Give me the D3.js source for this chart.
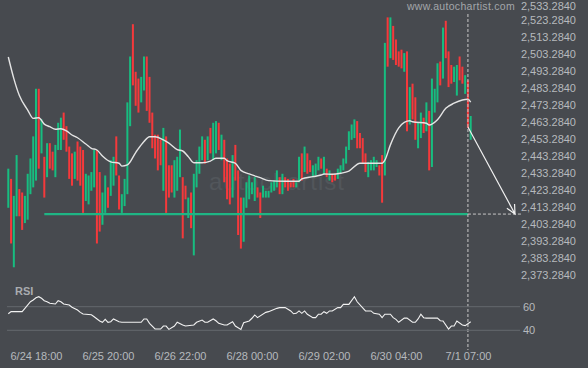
<!DOCTYPE html>
<html>
<head>
<meta charset="utf-8">
<script src="https://cdn.jsdelivr.net/npm/d3@7"></script>
<style>
  body { margin: 0; background: #474a4f; }
  svg { display: block; font-family: "Liberation Sans", Arial, sans-serif; }
</style>
</head>
<body>
<svg id="chart" width="588" height="368"></svg>
<script>
// hourly candles, u = up (green), d = down (red)
var dirs = "uduudduuuu" + "udududduuu" + "dddduddduu" + "uudduuduud" + "duuuuddduu" +
  "dddddduddd" + "uuudduduuu" + "ududuududd" + "duddduuuuu" + "dduuuuuudu" +
  "dddduududd" + "uuudududdu" + "uuuuuudddd" + "uuuuddudud" + "dddududduu" +
  "duduuududd" + "duuddudu";

var highs = [2436,2430,2420,2444,2424,2422,2420,2433,2442,2455,
  2483,2483,2465,2443,2451,2451,2446,2450,2463,2466,
  2469,2461,2449,2445,2446,2452,2449,2447,2433,2432,
  2434,2447,2447,2434,2422,2432,2425,2441,2443,2455,
  2432,2421,2430,2475,2502,2521,2493,2489,2490,2502,
  2502,2490,2469,2456,2456,2453,2460,2455,2438,2438,
  2441,2443,2459,2431,2426,2419,2422,2433,2441,2449,
  2455,2453,2455,2460,2463,2464,2463,2456,2453,2442,
  2439,2444,2450,2435,2419,2419,2428,2432,2428,2431,
  2425,2422,2426,2423,2423,2428,2429,2435,2431,2433,
  2431,2430,2428,2430,2428,2443,2445,2449,2445,2441,
  2438,2439,2443,2442,2443,2436,2435,2433,2433,2436,
  2438,2442,2449,2458,2462,2465,2464,2457,2454,2445,
  2440,2441,2443,2441,2438,2444,2510,2525,2525,2520,
  2512,2505,2506,2504,2505,2484,2486,2478,2463,2469,
  2466,2475,2470,2489,2483,2498,2499,2519,2523,2505,
  2497,2496,2497,2502,2496,2491,2488,2467];

var lows = [2413,2392,2378,2408,2408,2400,2404,2406,2421,2425,
  2429,2436,2445,2419,2431,2436,2435,2431,2447,2447,
  2453,2446,2430,2426,2430,2429,2426,2410,2417,2415,
  2423,2425,2392,2399,2403,2410,2413,2420,2426,2432,
  2412,2410,2414,2421,2461,2485,2473,2469,2475,2482,
  2470,2463,2448,2442,2435,2438,2423,2410,2419,2422,
  2419,2423,2431,2395,2418,2407,2401,2385,2425,2433,
  2441,2439,2441,2445,2441,2445,2447,2441,2428,2418,
  2415,2419,2429,2397,2389,2393,2413,2418,2421,2417,
  2419,2407,2419,2419,2419,2422,2423,2425,2421,2421,
  2425,2423,2425,2425,2425,2428,2429,2434,2433,2434,
  2431,2432,2435,2436,2433,2431,2429,2428,2429,2430,
  2433,2435,2439,2447,2453,2454,2448,2448,2439,2434,
  2431,2435,2435,2437,2432,2416,2432,2496,2501,2500,
  2497,2496,2495,2493,2458,2462,2465,2453,2448,2454,
  2457,2458,2435,2437,2469,2475,2485,2489,2501,2484,
  2486,2487,2479,2488,2486,2480,2460,2453];

// moving average, read at these candle indices
var maIdx = [0,2,4,7,9,11,13,15,17,19,21,23,25,28,30,32,34,37,40,41,43,46,49,51,53,
  56,58,61,63,65,67,70,73,75,78,79,82,84,87,91,94,100,105,106,110,113,114,117,120,123,
  127,135,136,138,141,143,145,146,151,152,155,158,161,164,166,167];
var maVal = [2501.7,2489,2479,2470.5,2465.6,2466,2462.2,2460.7,2459.2,2459.5,
  2458.2,2455.8,2454.2,2450.5,2448,2447,2443.5,2440,2439.2,2437.5,
  2438.2,2445.5,2452,2454.8,2454.8,2452.9,2451,2447.2,2446.4,2443.1,
  2439.5,2439.5,2440.5,2442.1,2442.1,2440.7,2439.2,2435,2432.9,2430.7,
  2429,2428.6,2428.6,2430,2431.3,2432.3,2432.9,2432.7,2433.3,2434.6,
  2439.2,2439.2,2441,2450,2460,2463.3,2464.2,2463.6,2462.7,2461.7,
  2464.8,2471.5,2474.5,2476.4,2476.8,2475.2];

var rsiIdx = [0,1,5,6,8,9,10,11,12,13,14,15,17,18,19,20,22,23,25,26,
  27,30,31,33,34,35,36,37,38,40,41,48,49,50,51,53,55,56,57,58,
  60,61,63,64,67,68,70,71,72,74,75,76,78,79,81,82,84,85,87,88,
  89,90,93,94,97,98,100,102,103,104,105,106,107,108,110,111,112,113,114,115,
  116,117,119,120,121,123,125,126,129,131,132,134,135,136,138,139,140,141,143,144,
  146,147,148,149,150,151,155,156,157,159,160,161,162,164,165,167];
var rsiVal = [54,55.8,55.8,58.6,64.2,65.7,67.6,68.5,67.1,65.1,64.2,62.9,62.3,65.1,64.2,62.3,61.4,59.5,57.2,55.2,
  53.8,53.2,51.5,47.9,46.8,49.3,46.8,47.3,49.6,47.3,46.8,46.8,49.6,49.6,45.9,41.1,41.1,43.6,43.6,40.8,
  43.6,46.8,44.5,43.6,44.5,46.8,48.7,46.8,46.8,49.6,48.1,45.9,44.5,44.5,47.3,43.6,40.8,46.4,47.9,50.2,
  53,50.7,55.2,55.8,58.6,59.2,59.2,56.4,54,54.4,56.4,54.4,56.4,53.6,50.7,50.7,53.6,53.6,55.8,54.4,
  56.4,56.4,59.2,59.2,62,62,68.5,64.2,56.4,56.4,54.4,53.6,50.7,53.6,53.6,50.7,49.3,46.8,50.3,50.3,
  46.8,46.8,49.6,53.6,50.7,50.3,50.3,48.1,47.9,41.1,43.6,43.6,47.9,44.5,44,47.3];

var priceTicks = [2533.284,2523.284,2513.284,2503.284,2493.284,2483.284,2473.284,2463.284,
  2453.284,2443.284,2433.284,2423.284,2413.284,2403.284,2393.284,2383.284,2373.284];
var rsiTicks = [60, 40];
var timeIdx = [10, 36, 62, 88, 114, 140, 166];
var timeLabels = ["6/24 18:00","6/25 20:00","6/26 22:00","6/28 00:00","6/29 02:00","6/30 04:00","7/1 07:00"];

var supportLevel = 2409.3, supportFrom = 13;
var signalIdx = 166, signalPrice = 2460.5;
var targetIdx = 183, targetPrice = 2409.3;

var svg = d3.select("#chart");
var green = "#17bd80", red = "#f5393b", txt = "#b6b9bd";

var x = d3.scaleLinear().domain([0, 167]).range([8.3, 470.7]);
var y = d3.scaleLinear().domain([2373.284, 2533.284]).range([275.3, 3.3]);
var yr = d3.scaleLinear().domain([40, 60]).range([330.3, 306.7]);

// faint watermark
svg.append("text").attr("x", 277).attr("y", 190).attr("text-anchor", "middle")
  .attr("font-size", 24).attr("fill", "#52565b").attr("letter-spacing", 1)
  .text("autochartist");

svg.append("text").attr("x", 461).attr("y", 10).attr("text-anchor", "middle")
  .attr("font-size", 10.5).attr("letter-spacing", 0.3).attr("fill", "#a3a6aa")
  .text("www.autochartist.com");

// candles
var candles = d3.range(highs.length);
svg.append("g").selectAll("rect").data(candles).enter().append("rect")
  .attr("x", function(i) { return x(i) - 1; })
  .attr("width", 2)
  .attr("y", function(i) { return y(highs[i]); })
  .attr("height", function(i) { return y(lows[i]) - y(highs[i]); })
  .attr("fill", function(i) { return dirs[i] == "u" ? green : red; });

// moving average
var maLine = d3.line().x(function(d, k) { return x(maIdx[k]); })
  .y(function(d) { return y(d); }).curve(d3.curveMonotoneX);
svg.append("path").attr("d", maLine(maVal)).attr("fill", "none")
  .attr("stroke", "#e4e4e4").attr("stroke-width", 1.4);

// support line
svg.append("line").attr("x1", x(supportFrom)).attr("x2", x(signalIdx))
  .attr("y1", y(supportLevel)).attr("y2", y(supportLevel))
  .attr("stroke", "#1fb584").attr("stroke-width", 2.2);
svg.append("line").attr("x1", x(signalIdx)).attr("x2", 522)
  .attr("y1", y(supportLevel)).attr("y2", y(supportLevel))
  .attr("stroke", "#c9c9c9").attr("stroke-width", 1).attr("stroke-dasharray", "3,2");

// vertical marker
svg.append("line").attr("x1", x(signalIdx)).attr("x2", x(signalIdx))
  .attr("y1", 14).attr("y2", 350)
  .attr("stroke", "#c9c9c9").attr("stroke-width", 1).attr("stroke-dasharray", "3,2");

// forecast arrow
var ax1 = x(signalIdx), ay1 = y(signalPrice), ax2 = x(targetIdx), ay2 = y(targetPrice);
var ang = Math.atan2(ay1 - ay2, ax1 - ax2);
var hl = 10, spread = 0.45;
svg.append("path")
  .attr("d", "M" + ax1 + "," + ay1 + "L" + ax2 + "," + ay2 +
    "M" + (ax2 + hl * Math.cos(ang - spread)) + "," + (ay2 + hl * Math.sin(ang - spread)) +
    "L" + ax2 + "," + ay2 +
    "L" + (ax2 + hl * Math.cos(ang + spread)) + "," + (ay2 + hl * Math.sin(ang + spread)))
  .attr("fill", "none").attr("stroke", "#f0f0f0").attr("stroke-width", 1.2);

// price axis
var yAxis = svg.append("g").attr("transform", "translate(576,0)")
  .call(d3.axisLeft(y).tickValues(priceTicks).tickFormat(d3.format(",.4f")).tickSize(0).tickPadding(0));
yAxis.select(".domain").remove();
yAxis.selectAll("text").attr("fill", txt).attr("font-size", 11).attr("font-family", null)
  .attr("dy", function(d, k) { return k == 0 ? "0.6em" : "0.32em"; });

// RSI panel
svg.append("g").selectAll("line").data(rsiTicks).enter().append("line")
  .attr("x1", 7).attr("x2", 520)
  .attr("y1", function(d) { return yr(d); }).attr("y2", function(d) { return yr(d); })
  .attr("stroke", "#64686d").attr("stroke-width", 1);
var rAxis = svg.append("g").attr("transform", "translate(523,0)")
  .call(d3.axisRight(yr).tickValues(rsiTicks).tickSize(0).tickPadding(0));
rAxis.select(".domain").remove();
rAxis.selectAll("text").attr("fill", txt).attr("font-size", 11).attr("font-family", null);

svg.append("text").attr("x", 15).attr("y", 295).attr("font-size", 11)
  .attr("font-weight", "bold").attr("fill", "#a9acb0").text("RSI");

var rsiLine = d3.line().x(function(d, k) { return x(rsiIdx[k]); }).y(function(d) { return yr(d); });
svg.append("path").attr("d", rsiLine(rsiVal)).attr("fill", "none")
  .attr("stroke", "#f2f2f2").attr("stroke-width", 1.1);

// time axis
var xAxis = svg.append("g").attr("transform", "translate(0,352)")
  .call(d3.axisBottom(x).tickValues(timeIdx)
    .tickFormat(function(d, k) { return timeLabels[k]; }).tickSize(0).tickPadding(0));
xAxis.select(".domain").remove();
xAxis.selectAll("text").attr("fill", txt).attr("font-size", 11).attr("font-family", null);
</script>
</body>
</html>
